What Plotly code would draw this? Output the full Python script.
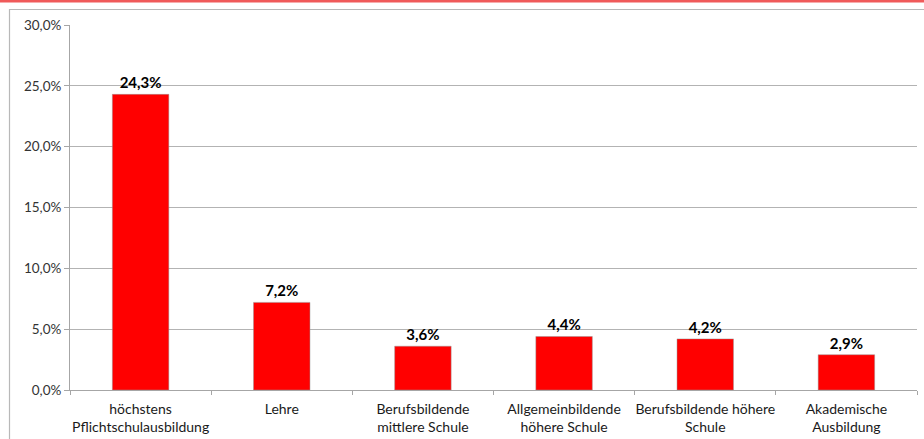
import plotly.graph_objects as go

categories = ["höchstens<br>Pflichtschulausbildung", "Lehre", "Berufsbildende<br>mittlere Schule",
              "Allgemeinbildende<br>höhere Schule", "Berufsbildende höhere<br>Schule", "Akademische<br>Ausbildung"]
values = [24.3, 7.2, 3.6, 4.4, 4.2, 2.9]
tick_vals = [0, 5, 10, 15, 20, 25, 30]
tick_text = ["0,0%", "5,0%", "10,0%", "15,0%", "20,0%", "25,0%", "30,0%"]
labels = [f"{v:.1f}%".replace(".", ",") for v in values]

W, H = 924, 439
L, R, T, B = 70, 7, 25, 49
pw, ph = W - L - R, H - T - B

def px(x):
    return (x - L) / pw

def py(y):
    return (H - B - y) / ph

fig = go.Figure(go.Bar(
    x=categories, y=values, text=labels, textposition="outside",
    textfont=dict(family="Lato", size=15, color="#000000", weight="bold"),
    marker=dict(color="#ff0000", line=dict(color="rgba(150,150,150,0.6)", width=0.8)),
    width=0.4, cliponaxis=False,
))

fig.update_layout(
    width=W, height=H, margin=dict(l=L, r=R, t=T, b=B, autoexpand=False),
    paper_bgcolor="white", plot_bgcolor="white",
    font=dict(family="Lato", size=13, color="#222222"),
    showlegend=False,
    xaxis=dict(showline=True, linecolor="#a6a6a6", linewidth=1, ticks="outside",
               tickson="boundaries", ticklen=4, tickcolor="#a6a6a6", tickangle=0,
               automargin=False, ticklabelstandoff=6,
               tickfont=dict(size=14, color="#1a1a1a"), showgrid=False),
    yaxis=dict(range=[0, 30], tickvals=tick_vals, ticktext=tick_text,
               showgrid=True, gridcolor="#b3b3b3", gridwidth=1, automargin=False,
               showline=True, linecolor="#a6a6a6", ticks="outside", ticklen=5,
               tickcolor="#a6a6a6", tickfont=dict(size=13.5, color="#333333"),
               zeroline=False),
    shapes=[
        dict(type="rect", xref="paper", yref="paper", x0=px(9.5), x1=px(940), y0=py(460), y1=py(9.5),
             line=dict(color="#b8b8b8", width=1.2), layer="below"),
        dict(type="line", xref="paper", yref="paper", x0=px(0), x1=px(924), y0=py(1), y1=py(1),
             line=dict(color="#f05a5a", width=3)),
    ],
)

fig.write_html("out.html", config={"displayModeBar": False},
               post_script="document.body.style.margin='0';document.body.style.padding='0';")
